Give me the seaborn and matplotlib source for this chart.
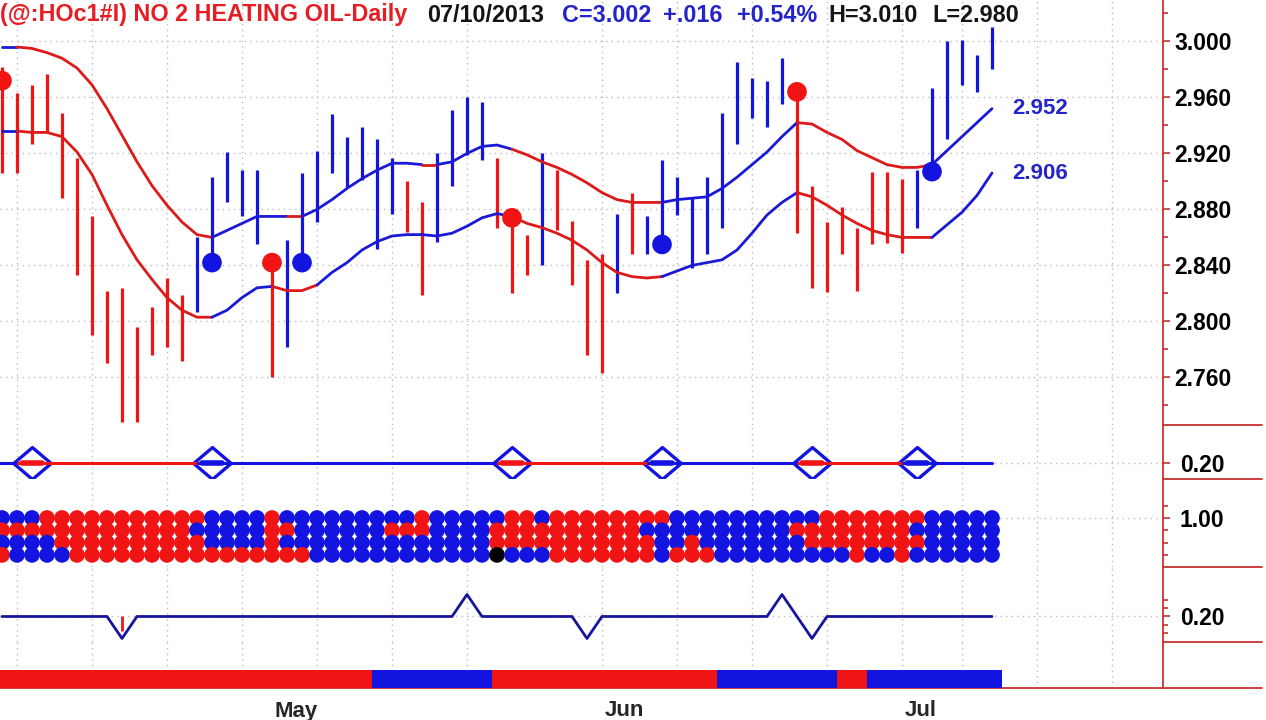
import numpy as np
import pandas as pd
import matplotlib
matplotlib.use("Agg")
import matplotlib.pyplot as plt
import matplotlib.transforms as mtransforms
from matplotlib.lines import Line2D
import seaborn as sns

# trading days shown on the chart (holidays dropped)
dates = pd.bdate_range("2013-04-05", "2013-07-10")
dates = dates[~dates.isin(pd.to_datetime(["2013-05-27", "2013-07-04"]))]

bar_high = [2.982, 2.963, 2.969, 2.977, 2.949, 2.917, 2.875, 2.822, 2.824, 2.796,
            2.810, 2.831, 2.819, 2.860, 2.903, 2.921, 2.908, 2.908, 2.846, 2.858,
            2.906, 2.922, 2.948, 2.932, 2.939, 2.930, 2.917, 2.900, 2.885, 2.920,
            2.951, 2.960, 2.957, 2.917, 2.876, 2.862, 2.920, 2.908, 2.872, 2.844,
            2.848, 2.877, 2.892, 2.875, 2.915, 2.903, 2.888, 2.903, 2.949, 2.985,
            2.974, 2.972, 2.988, 2.964, 2.897, 2.871, 2.882, 2.867, 2.907, 2.907,
            2.902, 2.908, 2.967, 3.000, 3.001, 2.990, 3.010]
bar_low = [2.906, 2.906, 2.927, 2.935, 2.888, 2.833, 2.790, 2.770, 2.728, 2.728,
           2.776, 2.782, 2.772, 2.807, 2.842, 2.885, 2.875, 2.855, 2.760, 2.782,
           2.842, 2.871, 2.906, 2.896, 2.901, 2.852, 2.877, 2.864, 2.819, 2.857,
           2.897, 2.919, 2.915, 2.867, 2.820, 2.833, 2.840, 2.865, 2.826, 2.776,
           2.763, 2.820, 2.848, 2.848, 2.855, 2.876, 2.838, 2.848, 2.867, 2.927,
           2.945, 2.939, 2.955, 2.863, 2.824, 2.821, 2.848, 2.822, 2.855, 2.856,
           2.849, 2.867, 2.907, 2.930, 2.969, 2.964, 2.980]
bar_color = ("rrrrrrrrrrrrr" "bbbbb" "r" "bbbbbbbb" "rr" "bbbb" "rrr" "b"
             "rrrr" "b" "r" "bbbbbbbbbb" "rrrrrrrr" "bbbbbb")

upper_band = [2.996, 2.996, 2.995, 2.992, 2.988, 2.981, 2.969, 2.952, 2.933, 2.914,
              2.897, 2.883, 2.871, 2.862, 2.860, 2.865, 2.870, 2.875, 2.875, 2.875,
              2.875, 2.880, 2.887, 2.895, 2.902, 2.908, 2.913, 2.913, 2.912, 2.912,
              2.914, 2.920, 2.925, 2.926, 2.923, 2.919, 2.914, 2.910, 2.905, 2.899,
              2.892, 2.887, 2.885, 2.885, 2.885, 2.887, 2.888, 2.889, 2.895, 2.903,
              2.912, 2.921, 2.932, 2.942, 2.941, 2.935, 2.930, 2.922, 2.917, 2.912,
              2.910, 2.910, 2.912, 2.922, 2.932, 2.942, 2.952]
lower_band = [2.936, 2.936, 2.935, 2.935, 2.932, 2.921, 2.905, 2.883, 2.862, 2.844,
              2.830, 2.817, 2.808, 2.803, 2.803, 2.808, 2.817, 2.824, 2.825, 2.822,
              2.822, 2.826, 2.835, 2.842, 2.851, 2.857, 2.861, 2.862, 2.862, 2.861,
              2.863, 2.868, 2.874, 2.877, 2.875, 2.870, 2.867, 2.863, 2.858, 2.851,
              2.842, 2.835, 2.832, 2.831, 2.832, 2.836, 2.840, 2.842, 2.844, 2.851,
              2.863, 2.876, 2.885, 2.892, 2.889, 2.883, 2.876, 2.870, 2.865, 2.862,
              2.860, 2.860, 2.860, 2.869, 2.878, 2.890, 2.906]
# colour of each band segment (bar i -> bar i+1)
upper_seg = ("b" "rrrrrrrrrrrrr" "bbbbb" "r" "bbbbbbbb" "r" "bbbbb"
             "rrrrrrrrrr" "bbbbbbbbb" "rrrrrrrrr" "bbbb")
lower_seg = ("b" "rrrrrrrrrrrrr" "bbbb" "rrr" "bbbbbbbbbbbbb"
             "rrrrrrrrrr" "bbbbbbbbb" "rrrrrrrrr" "bbbb")

dot_bar = [0, 14, 18, 20, 34, 44, 53, 62]
dot_price = [2.972, 2.842, 2.842, 2.842, 2.874, 2.855, 2.964, 2.907]
dot_color = "rbrbrbrb"

signal_bar = [2, 14, 34, 44, 54, 61]
signal_color = "rbrbrb"
signal_level = 0.20

matrix_rows = [
    "bbb" "rrrrrrrrrrr" "bbbb" "r" "bbbbbbbbb" "r" "bbbbb" "rr" "b" "rrrrrrrr" "bbbbbbbbbb" "rrrrrrr" "bbbbb",
    "rrrrrrrrrrrrr" "bbbbb" "rr" "bbbbbb" "rrr" "bbbb" "rrrrrrrrrr" "bbbbbbbbbb" "rrrrrrrr" "bbbbbb",
    "bbbb" "rrrrrrrrrr" "bbbb" "r" "bbbbbbbbbbbbbb" "rrrrrrrrrrr" "bb" "r" "bbbbbbb" "rrrrrrrr" "bbbbb",
    "r" "bbbb" "rrrrrrrrrrrrrrrr" "bbbbbbbbbbbb" "k" "bbb" "rrrrrrr" "b" "rrr" "bbbbbbbbb" "r" "bb" "r" "bbbbbb",
]

spike = [0.20, 0.20, 0.20, 0.20, 0.20, 0.20, 0.20, 0.20, -0.20, 0.20,
         0.20, 0.20, 0.20, 0.20, 0.20, 0.20, 0.20, 0.20, 0.20, 0.20,
         0.20, 0.20, 0.20, 0.20, 0.20, 0.20, 0.20, 0.20, 0.20, 0.20,
         0.20, 0.60, 0.20, 0.20, 0.20, 0.20, 0.20, 0.20, 0.20, -0.20,
         0.20, 0.20, 0.20, 0.20, 0.20, 0.20, 0.20, 0.20, 0.20, 0.20,
         0.20, 0.20, 0.60, 0.20, -0.20, 0.20, 0.20, 0.20, 0.20, 0.20,
         0.20, 0.20, 0.20, 0.20, 0.20, 0.20, 0.20]
hist_bar = [8]
hist_val = [-0.07]

trend_color = ("rrrrrrrrrrrrrrrrrrrrrrrrr" "bbbbbbbb" "rrrrrrrrrrrrrrr"
               "bbbbbbbb" "rr" "bbbbbbbbb")

header_text = ["(@:HOc1#I) NO 2 HEATING OIL-Daily", "07/10/2013", "C=3.002",
               "+.016", "+0.54%", "H=3.010", "L=2.980"]
header_color = ["r", "k", "b", "b", "b", "k", "k"]

# ---- styling / layout ----
sns.set_style("white")
plt.rcParams["font.family"] = ["Liberation Sans", "DejaVu Sans"]

PAL = {"r": "#f01414", "b": "#1414e0", "k": "#000000"}
BAND = {"r": "#dc1a1a", "b": "#1a1ad6"}
HDR = {"r": "#e61e24", "k": "#151515", "b": "#2424c8"}
AXRED = "#c83232"
GRID = "#bcbcbc"
NAVY = "#16169c"

W, H = 1266, 720
AX_R = 1163
header_x = [0, 427, 562, 663, 737, 828, 932]

fig = plt.figure(figsize=(W / 100, H / 100), dpi=100)


def px_box(top, bottom):
    return [0, 1 - bottom / H, AX_R / W, (bottom - top) / H]


ax_p = fig.add_axes(px_box(0, 425))
ax_s = fig.add_axes(px_box(425, 479))
ax_m = fig.add_axes(px_box(479, 567))
ax_k = fig.add_axes(px_box(567, 642))
ax_c = fig.add_axes(px_box(642, 688))
axes = [ax_p, ax_s, ax_m, ax_k, ax_c]

n = len(dates)
x = np.arange(n)
XLIM = (-0.133, 77.4)

week_lines = [i for i in range(1, n) if dates[i].dayofweek == 0]
while week_lines[-1] + 5 < XLIM[1]:
    week_lines.append(week_lines[-1] + 5)
month_pos = [i for i in range(1, n) if dates[i].month != dates[i - 1].month]
month_lab = [dates[i].strftime("%b") for i in month_pos]


def runs(codes):
    out, start = [], 0
    for i in range(1, len(codes) + 1):
        if i == len(codes) or codes[i] != codes[start]:
            out.append((start, i, codes[start]))
            start = i
    return out


for ax in axes:
    ax.set_xlim(*XLIM)
    ax.set_facecolor("white")
    for side in ("top", "left", "bottom"):
        ax.spines[side].set_visible(False)
    ax.spines["right"].set_color(AXRED)
    ax.spines["right"].set_linewidth(1.3)
    ax.yaxis.tick_right()
    ax.set_xticks([])
    ax.set_axisbelow(True)
    for w in week_lines:
        ax.axvline(w, color=GRID, ls=(0, (1, 3)), lw=1, zorder=0)

# price panel
ax_p.vlines(x, bar_low, bar_high, colors=[PAL[c] for c in bar_color], lw=2.3, zorder=3)
for band, seg in ((upper_band, upper_seg), (lower_band, lower_seg)):
    for a, b, c in runs(seg):
        sns.lineplot(x=x[a:b + 1], y=band[a:b + 1], color=BAND[c], linewidth=2.0,
                     ax=ax_p, zorder=4, legend=False)
sns.scatterplot(x=dot_bar, y=dot_price, hue=list(dot_color),
                palette={k: PAL[k] for k in set(dot_color)}, s=200, linewidth=0,
                legend=False, ax=ax_p, zorder=6)
for band in (upper_band, lower_band):
    ax_p.text(n - 1 + 1.33, band[-1], f"{band[-1]:.3f}", color=HDR["b"], fontsize=16,
              fontweight="bold", va="center", ha="left")
ax_p.set_ylim(2.726, 3.0296)
ax_p.set_yticks(np.arange(2.760, 3.0001, 0.040))
ax_p.set_yticklabels([f"{v:.3f}" for v in np.arange(2.760, 3.0001, 0.040)])
ax_p.set_yticks(np.arange(2.740, 3.021, 0.020), minor=True)

# signal line with diamonds
ax_s.set_ylim(0, 0.675)
first = "b" if signal_color[0] == "r" else "r"
states = [first] + list(signal_color)
bounds = [XLIM[0]] + [b - 0.9 for b in signal_bar] + [n - 1]
for i, c in enumerate(states):
    ax_s.plot([bounds[i], bounds[i + 1]], [signal_level] * 2, color=PAL[c], lw=2.2, zorder=4)
DIAMOND = [(-1, 0), (0, 0.85), (1, 0), (0, -0.85), (-1, 0)]
ax_s.plot(signal_bar, [signal_level] * len(signal_bar), ls="none", marker=DIAMOND,
          ms=27, mfc="white", mec=PAL["b"], mew=2.4, zorder=3)
for b, c in zip(signal_bar, signal_color):
    ax_s.plot([b - 0.65, b + 0.65], [signal_level] * 2, color=PAL[c], lw=4.0, zorder=5)
ax_s.set_yticks([signal_level])
ax_s.set_yticklabels([f"{signal_level:.2f}"])

# dot matrix
cells = [(i, r, c) for r, codes in enumerate(matrix_rows) for i, c in enumerate(codes)]
df = pd.DataFrame(cells, columns=["bar", "row", "state"])
df["level"] = 1.00 - 0.14 * df["row"]
sns.scatterplot(data=df, x="bar", y="level", hue="state", palette=PAL, s=128,
                linewidth=0, legend=False, ax=ax_m, zorder=3)
ax_m.set_ylim(0.442, 1.444)
ax_m.set_yticks([1.00])
ax_m.set_yticklabels(["1.00"])
ax_m.set_yticks([1.14, 0.86, 0.72, 0.58], minor=True)

# spike line
sns.lineplot(x=x, y=spike, color=NAVY, linewidth=2.0, ax=ax_k, zorder=3, legend=False)
ax_k.vlines(hist_bar, hist_val, signal_level, colors=PAL["r"], lw=2, zorder=4)
ax_k.set_ylim(-0.264, 1.10)
ax_k.set_yticks([0.20])
ax_k.set_yticklabels(["0.20"])
ax_k.set_yticks([0.50, 0.35, 0.05, -0.10], minor=True)

# trend colour strip, one block per run of equal state
for a, b, c in runs(trend_color):
    ax_c.bar(a - 0.3, 0.39, width=b - a, align="edge", color=PAL[c],
             linewidth=0, zorder=3)
ax_c.set_ylim(0, 1)
ax_c.set_yticks([])
ax_c.spines["bottom"].set_visible(True)
ax_c.spines["bottom"].set_color(AXRED)
ax_c.spines["bottom"].set_linewidth(1.3)
ax_c.set_xticks(month_pos)
ax_c.set_xticklabels(month_lab)
ax_c.set_xticks(week_lines, minor=True)
ax_c.tick_params(axis="x", which="major", length=9, width=1.2, color=AXRED,
                 labelsize=16, pad=0)
ax_c.tick_params(axis="x", which="minor", length=4, width=1.2, color=AXRED)
shift = mtransforms.ScaledTranslation(3 / 100, 0, fig.dpi_scale_trans)
for lab in ax_c.get_xticklabels():
    lab.set_horizontalalignment("left")
    lab.set_fontweight("bold")
    lab.set_transform(lab.get_transform() + shift)

for ax in axes[:4]:
    ax.grid(axis="y", color=GRID, ls=(0, (1, 3)), lw=1)
    ax.grid(axis="x", visible=False)
    ax.tick_params(axis="y", which="major", colors=AXRED, labelcolor="black",
                   length=5, width=1.2, labelsize=16.5, pad=3)
    ax.tick_params(axis="y", which="minor", colors=AXRED, length=3.5, width=1.2)
    for lab in ax.get_yticklabels():
        lab.set_fontweight("bold")
for ax in (ax_s, ax_m, ax_k):
    ax.tick_params(axis="y", which="major", pad=7)

# panel separators on the scale strip
for y in (425, 479, 567, 642, 688):
    fig.add_artist(Line2D([AX_R / W, 1262 / W], [1 - y / H] * 2, color=AXRED, lw=1.3))

# header line
for hx, txt, c in zip(header_x, header_text, header_color):
    fig.text(hx / W, 1 - 15 / H, txt, color=HDR[c], fontsize=16.8, fontweight="bold",
             ha="left", va="center")

fig.savefig("out.png", dpi=100, facecolor="white")
